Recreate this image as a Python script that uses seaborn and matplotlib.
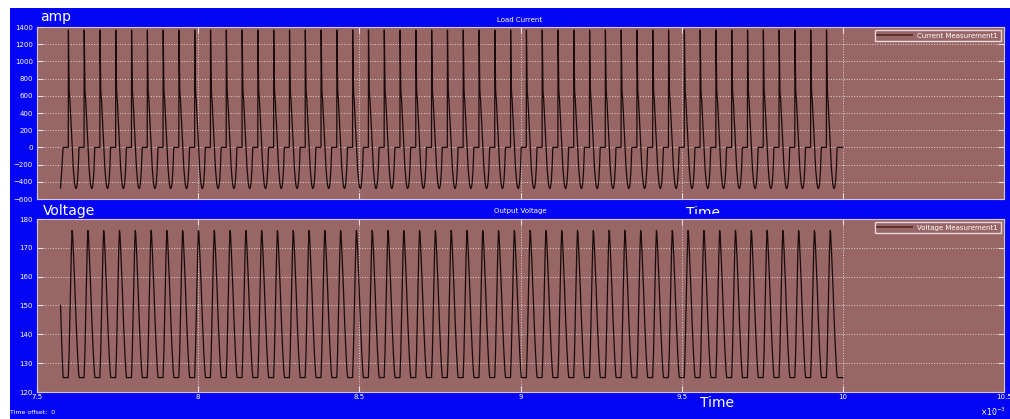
import numpy as np
import pandas as pd
import matplotlib
matplotlib.use('Agg')
import matplotlib.pyplot as plt
import seaborn as sns
from matplotlib.patches import Rectangle
from matplotlib.lines import Line2D
from matplotlib.transforms import Bbox, TransformedBbox

# time is in units of 1e-3 s (axis shows x10^-3)
first_spike = 7.597
period = 0.049
n_cycles = 49

# start of the record
start_t = [7.573, 7.577, 7.581]
current_start = [-472, -250, 0]
voltage_start = [150, 136, 125]

# one switching cycle (phase as fraction of a period)
cycle_phase_i = [0.0, 0.008, 0.02, 0.06, 0.10, 0.16, 0.24, 0.32, 0.40, 0.45, 0.49, 0.53, 0.58, 0.63, 0.68]
current_cycle = [0, 1365, 1200, 650, 560, 350, 50, -250, -420, -468, -478, -465, -400, -250, 0]

cycle_phase_v = [0.0, 0.05, 0.10, 0.15, 0.20, 0.24, 0.27, 0.33, 0.42, 0.50, 0.58, 0.65, 0.69]
voltage_cycle = [125, 133, 145, 158, 170, 176, 175, 168, 156, 144, 134, 127, 125]

end_t = [10.0]
current_end = [0]
voltage_end = [125]

x_ticks = [7.5, 8, 8.5, 9, 9.5, 10, 10.5]
x_ticklabels = ['7.5', '8', '8.5', '9', '9.5', '10', '10.5']
i_ticks = [-600, -400, -200, 0, 200, 400, 600, 800, 1000, 1200, 1400]
v_ticks = [120, 130, 140, 150, 160, 170, 180]


def build(phase, cycle, s_vals, e_vals):
    t = list(start_t)
    y = list(s_vals)
    for k in range(n_cycles):
        t += [first_spike + (k + p) * period for p in phase]
        y += list(cycle)
    t += end_t
    y += list(e_vals)
    return pd.DataFrame({'time': t, 'value': y})


df_i = build(cycle_phase_i, current_cycle, current_start, current_end)
df_v = build(cycle_phase_v, voltage_cycle, voltage_start, voltage_end)

W, H = 1010, 419
BLUE = '#0505F5'
FACE = '#986664'
TRACE = '#1a0c0c'

fig = plt.figure(figsize=(W / 100, H / 100), dpi=100, facecolor='white')
fig.add_artist(Rectangle((10 / W, 0), 1 - 10 / W, 1 - 8 / H, transform=fig.transFigure,
                         facecolor=BLUE, edgecolor='none', zorder=-5))


def px(x, y):
    return x / W, 1 - y / H


ax1 = fig.add_axes([37 / W, 1 - 199 / H, 967 / W, 172 / H])
ax2 = fig.add_axes([37 / W, 1 - 392 / H, 967 / W, 173 / H])

sns.lineplot(data=df_i, x='time', y='value', ax=ax1, estimator=None, sort=False,
             color=TRACE, linewidth=0.9)
sns.lineplot(data=df_v, x='time', y='value', ax=ax2, estimator=None, sort=False,
             color=TRACE, linewidth=0.9)

for ax, yt, ylim in [(ax1, i_ticks, (-600, 1400)), (ax2, v_ticks, (120, 180))]:
    ax.set_facecolor(FACE)
    ax.set_xlim(7.5, 10.5)
    ax.set_ylim(*ylim)
    ax.set_xticks(x_ticks)
    ax.set_yticks(yt)
    ax.set_xlabel('')
    ax.set_ylabel('')
    ax.grid(True, linestyle=':', color='#e8dede', linewidth=0.7, alpha=0.9)
    ax.tick_params(direction='in', length=4, width=0.8, color='#e8e0e0',
                   labelcolor='white', labelsize=5, top=True, right=True, pad=3)
    for s in ax.spines.values():
        s.set_color('#d0c8e8')
        s.set_linewidth(0.8)

ax1.tick_params(labelbottom=False)
ax2.set_xticklabels(x_ticklabels)
ax2.tick_params(axis='x', pad=1.5)

leg_kw = dict(loc='upper right', fontsize=5, frameon=True, fancybox=False,
              facecolor=FACE, edgecolor='#e8dada', framealpha=1, labelcolor='white',
              handlelength=5, borderpad=0.35, borderaxespad=0.5)
ax1.legend(handles=[Line2D([], [], color='#5b2b2b', lw=1.3)], labels=['Current Measurement1'], **leg_kw)
ax2.legend(handles=[Line2D([], [], color='#5b2b2b', lw=1.3)], labels=['Voltage Measurement1'], **leg_kw)

fig.text(*px(520, 20), 'Load Current', color='white', fontsize=5, ha='center', va='center')
fig.text(*px(520, 211), 'Output Voltage', color='white', fontsize=5, ha='center', va='center')

fig.text(*px(40, 21), 'amp', color='white', fontsize=10, ha='left', va='baseline')
fig.text(*px(43, 215), 'Voltage', color='white', fontsize=10, ha='left', va='baseline')
t_top = fig.text(*px(686, 217), 'Time', color='white', fontsize=10, ha='left', va='baseline', zorder=-1)
t_top.set_clip_box(TransformedBbox(Bbox([[0, 1 - 214 / H], [1, 1]]), fig.transFigure))
t_top.set_clip_on(True)
fig.text(*px(700, 407), 'Time', color='white', fontsize=10, ha='left', va='baseline')

fig.text(*px(10, 414), 'Time offset:  0', color='white', fontsize=4.5, ha='left', va='baseline')
fig.text(*px(1006, 416), r'$\times10^{-3}$', color='white', fontsize=5.5, ha='right', va='baseline')

fig.savefig('out.png', dpi=100, facecolor='white')
